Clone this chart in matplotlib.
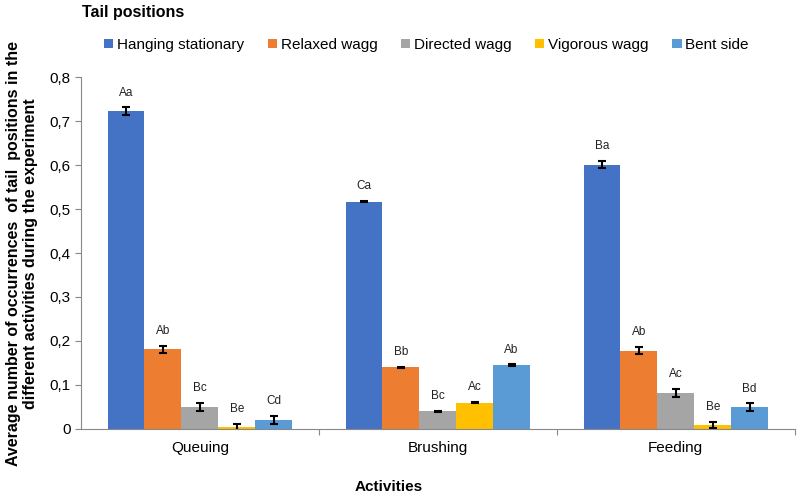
import numpy as np
from matplotlib import pyplot as plt

plt.rcParams['font.family'] = ['Liberation Sans', 'DejaVu Sans']

activities = ["Queuing", "Brushing", "Feeding"]
positions = ["Hanging stationary", "Relaxed wagg", "Directed wagg", "Vigorous wagg", "Bent side"]
colors = ["#4472C4", "#ED7D31", "#A5A5A5", "#FFC000", "#5B9BD5"]

# mean occurrence per position, one list per tail position (Queuing, Brushing, Feeding)
hanging = [0.722, 0.517, 0.601]
relaxed = [0.181, 0.140, 0.178]
directed = [0.050, 0.040, 0.082]
vigorous = [0.005, 0.060, 0.010]
bent = [0.021, 0.145, 0.050]

hanging_err = [0.009, 0.002, 0.008]
relaxed_err = [0.008, 0.002, 0.008]
directed_err = [0.009, 0.002, 0.009]
vigorous_err = [0.007, 0.002, 0.007]
bent_err = [0.009, 0.002, 0.008]

hanging_lbl = ["Aa", "Ca", "Ba"]
relaxed_lbl = ["Ab", "Bb", "Ab"]
directed_lbl = ["Bc", "Bc", "Ac"]
vigorous_lbl = ["Be", "Ac", "Be"]
bent_lbl = ["Cd", "Ab", "Bd"]

series = [hanging, relaxed, directed, vigorous, bent]
errors = [hanging_err, relaxed_err, directed_err, vigorous_err, bent_err]
letters = [hanging_lbl, relaxed_lbl, directed_lbl, vigorous_lbl, bent_lbl]

fig = plt.figure(figsize=(8, 4.94), dpi=100)
ax = fig.add_axes([0.101, 0.1316, 0.8925, 0.7125])

x = np.arange(len(activities))
width = 0.155
for i in range(5):
    pos = x + (i - 2) * width
    ax.bar(pos, series[i], width, color=colors[i], label=positions[i],
           yerr=errors[i], capsize=3,
           error_kw=dict(ecolor='black', elinewidth=1.5, capthick=1.5))
    for j in range(3):
        ax.text(pos[j], series[i][j] + errors[i][j] + 0.02, letters[i][j],
                ha='center', va='bottom', fontsize=8.5, color='#222222')

ax.set_xlim(-0.5, 2.5)
ax.set_ylim(0, 0.8)
ticks = np.arange(0, 0.81, 0.1)
ax.set_yticks(ticks)
ax.set_yticklabels(['0' if v == 0 else f'{v:.1f}'.replace('.', ',') for v in ticks], fontsize=11)
ax.set_xticks([0.5, 1.5, 2.5])
ax.set_xticklabels([])
ax.set_xticks(x, minor=True)
ax.set_xticklabels(activities, minor=True, fontsize=11)
ax.tick_params(axis='x', which='minor', length=0, pad=9)
ax.tick_params(axis='x', which='major', length=4, color='#888888')
ax.tick_params(axis='y', length=4, color='#888888')

for s in ['top', 'right']:
    ax.spines[s].set_visible(False)
for s in ['left', 'bottom']:
    ax.spines[s].set_color('#888888')

fig.text(22 / 800, 1 - 254 / 494,
         "Average number of occurrences  of tail  positions in the\ndifferent activities during the experiment",
         fontsize=11.5, fontweight='bold', rotation=90, ha='center', va='center', linespacing=1.15)
fig.text(389 / 800, 1 - 487 / 494, "Activities", fontsize=11, fontweight='bold', ha='center', va='center')
fig.text(82 / 800, 1 - 13 / 494, "Tail positions", fontsize=11.5, fontweight='bold', ha='left', va='center')

ax.legend(loc='center left', bbox_to_anchor=((104 - 81) / 714, (429 - 45) / 352), ncol=5, frameon=False,
          fontsize=11, handlelength=0.6, handleheight=0.6, handletextpad=0.25,
          columnspacing=1.55, borderaxespad=0, borderpad=0)

fig.savefig('out.png', dpi=100)
